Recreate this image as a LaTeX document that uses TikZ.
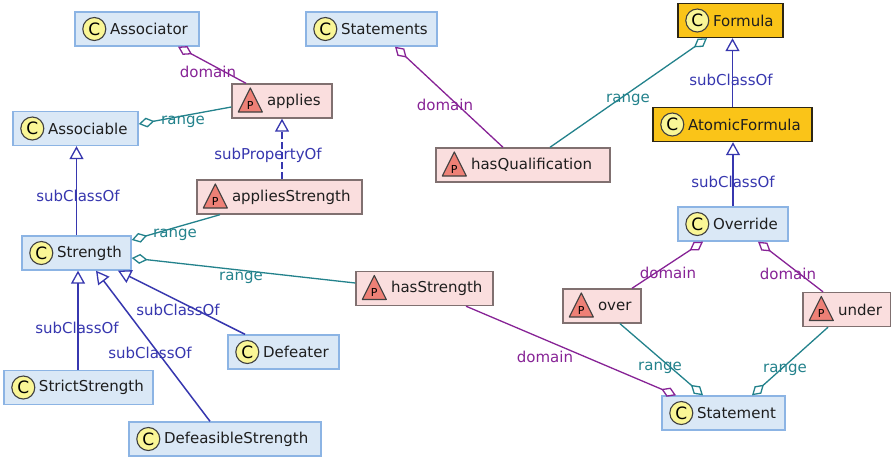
\documentclass[tikz,border=0pt]{standalone}
\usepackage{fontspec}
\setmainfont{DejaVu Sans}
\usetikzlibrary{arrows.meta}
\definecolor{cfill}{RGB}{218,232,246}
\definecolor{cdraw}{RGB}{140,180,228}
\definecolor{pfill}{RGB}{250,222,222}
\definecolor{pdraw}{RGB}{128,112,112}
\definecolor{ofill}{RGB}{250,196,24}
\definecolor{odraw}{RGB}{45,38,20}
\definecolor{iconY}{RGB}{250,246,150}
\definecolor{iconR}{RGB}{238,128,118}
\definecolor{subc}{RGB}{55,55,175}
\definecolor{dom}{RGB}{135,35,150}
\definecolor{rng}{RGB}{35,130,140}
\definecolor{txt}{RGB}{30,30,30}
\newcommand{\boxtxt}[2]{\makebox[#1pt][l]{\hspace{35pt}#2}}
\tikzset{
  base/.style={minimum height=34pt, inner xsep=0pt, inner ysep=0pt, line width=1.4pt,
    font=\fontsize{15}{18}\selectfont, text=txt},
  cls/.style={base, draw=cdraw, fill=cfill},
  ocls/.style={base, draw=odraw, fill=ofill},
  prop/.style={base, draw=pdraw, fill=pfill},
  ccirc/.style={line width=1.1pt, draw=black!75, fill=iconY},
  ptri/.style={line width=1.1pt, draw=black!75, fill=iconR, line join=round},
  iconlab/.style={text=black, inner sep=0pt},
  sub/.style={draw=subc, line width=1.5pt, -{Triangle[open, length=13pt, width=14pt, line width=1.3pt]}},
  subp/.style={sub, dash pattern=on 7pt off 3pt},
  dm/.style={draw=dom, line width=1.3pt, -{Diamond[open, length=16pt, width=10pt, line width=1.3pt]}},
  rg/.style={draw=rng, line width=1.3pt, -{Diamond[open, length=16pt, width=10pt, line width=1.3pt]}},
  lab/.style={font=\fontsize{15}{18}\selectfont, inner sep=0pt},
}
\begin{document}
\begin{tikzpicture}[x=1pt, y=-1pt]
\path[use as bounding box, fill=white] (0,0) rectangle (891,459);

\node[cls] (assoc) at (137,29) {\boxtxt{124}{Associator}};
\node[cls] (stmts) at (371.5,29) {\boxtxt{131}{Statements}};
\node[ocls] (formula) at (730.5,20.5) {\boxtxt{105}{Formula}};
\node[prop] (applies) at (282,101) {\boxtxt{100}{applies}};
\node[cls] (associable) at (75.5,128.5) {\boxtxt{125}{Associable}};
\node[ocls] (atomic) at (732.5,124.5) {\boxtxt{159}{AtomicFormula}};
\node[prop] (appliesS) at (279.5,197) {\boxtxt{165}{appliesStrength}};
\node[prop] (hasQ) at (523,165) {\boxtxt{174}{hasQualification}};
\node[cls] (override) at (733,224) {\boxtxt{110}{Override}};
\node[cls] (strength) at (76.5,253) {\boxtxt{109}{Strength}};
\node[prop] (hasS) at (424.5,288.5) {\boxtxt{137}{hasStrength}};
\node[prop] (over) at (602,306) {\boxtxt{78}{over}};
\node[prop] (under) at (847,309.5) {\boxtxt{88}{under}};
\node[cls] (defeater) at (283.5,352) {\boxtxt{111}{Defeater}};
\node[cls] (strict) at (78.5,387.5) {\boxtxt{149}{StrictStrength}};
\node[cls] (statement) at (723.5,413) {\boxtxt{123}{Statement}};
\node[cls] (defeasible) at (225,439) {\boxtxt{192}{DefeasibleStrength}};

% class icons
\foreach \n in {assoc,stmts,formula,associable,atomic,override,strength,defeater,strict,statement,defeasible}{
  \draw[ccirc] ([xshift=20pt]\n.west) circle (11.5pt);
  \node[iconlab, font=\fontsize{17}{18}\selectfont] (c-\n) at ([xshift=20pt]\n.west) {C};
}
% property icons
\foreach \n in {applies,appliesS,hasQ,hasS,over,under}{
  \draw[ptri] ([xshift=7pt,yshift=-11pt]\n.west) -- ([xshift=31pt,yshift=-11pt]\n.west)
      -- ([xshift=19pt,yshift=13pt]\n.west) -- cycle;
  \node[iconlab, font=\fontsize{11}{12}\selectfont] (p-\n) at ([xshift=19pt,yshift=-4pt]\n.west) {P};
}

% connectors
\draw[dm] ([xshift=-36pt]applies.north) -- ([xshift=41pt]assoc.south);
\draw[rg] ([yshift=-6pt]applies.west) -- ([yshift=4.5pt]associable.east);
\draw[subp] ([xshift=2.5pt]appliesS.north) -- (applies.south);
\draw[sub] (strength.north) -- (strength.north |- associable.south);
\draw[rg] ([xshift=-59.5pt]appliesS.south) -- ([yshift=13pt]strength.east);
\draw[rg] ([yshift=5.5pt]hasS.west) -- ([yshift=-5pt]strength.east);
\draw[dm] ([xshift=41.5pt]hasS.south) -- ([xshift=-47.5pt]statement.north);
\draw[dm] ([xshift=-20pt]hasQ.north) -- ([xshift=23.5pt]stmts.south);
\draw[rg] ([xshift=27pt]hasQ.north) -- ([xshift=-23.5pt]formula.south);
\draw[sub] (atomic.north) -- (atomic.north |- formula.south);
\draw[sub] (override.north) -- (override.north |- atomic.south);
\draw[dm] ([xshift=30pt]over.north) -- ([xshift=-30pt]override.south);
\draw[dm] ([xshift=-24pt]under.north) -- ([xshift=25pt]override.south);
\draw[rg] ([xshift=18pt]over.south) -- ([xshift=-20.5pt]statement.north);
\draw[rg] ([xshift=-19pt]under.south) -- ([xshift=28.5pt]statement.north);
\draw[sub] ([xshift=-0.5pt]strict.north) -- ([xshift=1.5pt]strength.south);
\draw[sub] ([xshift=-15pt]defeasible.north) -- ([xshift=19.5pt]strength.south);
\draw[sub] ([xshift=-38.5pt]defeater.north) -- ([xshift=41.5pt]strength.south);

% labels
\node[lab, text=dom] (l1) at (208,72) {domain};
\node[lab, text=rng] (l2) at (183,122) {range};
\node[lab, text=subc] (l3) at (268,155) {subPropertyOf};
\node[lab, text=subc] (l4) at (78,196) {subClassOf};
\node[lab, text=rng] (l5) at (175,235) {range};
\node[lab, text=rng] (l6) at (241,278) {range};
\node[lab, text=dom] (l7) at (545,357) {domain};
\node[lab, text=dom] (l8) at (445,105) {domain};
\node[lab, text=rng] (l9) at (628,100) {range};
\node[lab, text=subc] (l10) at (731,80) {subClassOf};
\node[lab, text=subc] (l11) at (733,182) {subClassOf};
\node[lab, text=dom] (l12) at (668,273) {domain};
\node[lab, text=dom] (l13) at (788,274) {domain};
\node[lab, text=rng] (l14) at (660,368) {range};
\node[lab, text=rng] (l15) at (785,370) {range};
\node[lab, text=subc] (l16) at (77,328) {subClassOf};
\node[lab, text=subc] (l17) at (150,353) {subClassOf};
\node[lab, text=subc] (l18) at (178,310) {subClassOf};
\end{tikzpicture}
\end{document}
